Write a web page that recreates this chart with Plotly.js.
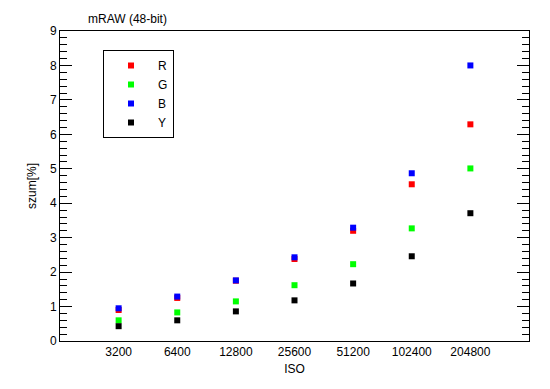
<!DOCTYPE html>
<html><head><meta charset="utf-8">
<script src="https://cdn.plot.ly/plotly-3.0.1.min.js"></script>
<style>body{margin:0;padding:0;}#chart{width:550px;height:389px;}</style>
</head><body><div id="chart"></div>
<script>
const isoLabels = ["3200","6400","12800","25600","51200","102400","204800"];
const seriesR = [0.90, 1.25, 1.75, 2.38, 3.20, 4.55, 6.29];
const seriesG = [0.60, 0.83, 1.15, 1.62, 2.23, 3.27, 5.01];
const seriesB = [0.95, 1.29, 1.76, 2.43, 3.29, 4.87, 8.00];
const seriesY = [0.43, 0.60, 0.86, 1.18, 1.67, 2.46, 3.71];
const names = ["R","G","B","Y"];
const colors = ["#ff0000","#00ff00","#0000ff","#000000"];
const all = [seriesR, seriesG, seriesB, seriesY];

const traces = all.map((vals, i) => ({
  type: "scatter", mode: "markers",
  x: isoLabels, y: vals, name: names[i],
  marker: {symbol: "square", size: 6, color: colors[i], line: {width: 0}}
}));

const font = {family: "Liberation Sans, Arial, sans-serif", size: 12, color: "#000"};
const layout = {
  width: 550, height: 389,
  margin: {l: 60, r: 21, t: 31, b: 48},
  paper_bgcolor: "#fff", plot_bgcolor: "#fff",
  font: font,
  showlegend: true,
  title: {text: "mRAW (48-bit)", font: {family: font.family, size: 12, color: "#000"},
          xref: "container", yref: "container", x: 88/550, xanchor: "left", y: 1 - 19/389, yanchor: "middle"},
  xaxis: {
    type: "category", range: [-1, 7],
    showgrid: false, zeroline: false,
    showline: true, linecolor: "#000", linewidth: 1, mirror: true,
    ticks: "", tickfont: font,
    title: {text: "ISO", font: font, standoff: 6}
  },
  yaxis: {
    range: [0, 9], dtick: 1, tick0: 0,
    showgrid: false, zeroline: false,
    showline: true, linecolor: "#000", linewidth: 1, mirror: "ticks",
    ticks: "inside", ticklen: 12, tickwidth: 1, tickcolor: "#000",
    minor: {dtick: 0.2, ticks: "inside", ticklen: 7, tickwidth: 1, tickcolor: "#000", showgrid: false},
    tickfont: font,
    title: {text: "szum[%]", font: font, standoff: 10}
  },
  legend: {
    x: (103-60)/469, y: 1 - (50-31)/310, xanchor: "left", yanchor: "top",
    bordercolor: "#000", borderwidth: 1, bgcolor: "#fff",
    font: font, tracegroupgap: 0, itemwidth: 44
  }
};
Plotly.newPlot("chart", traces, layout, {displayModeBar: false, staticPlot: true});
</script></body></html>
